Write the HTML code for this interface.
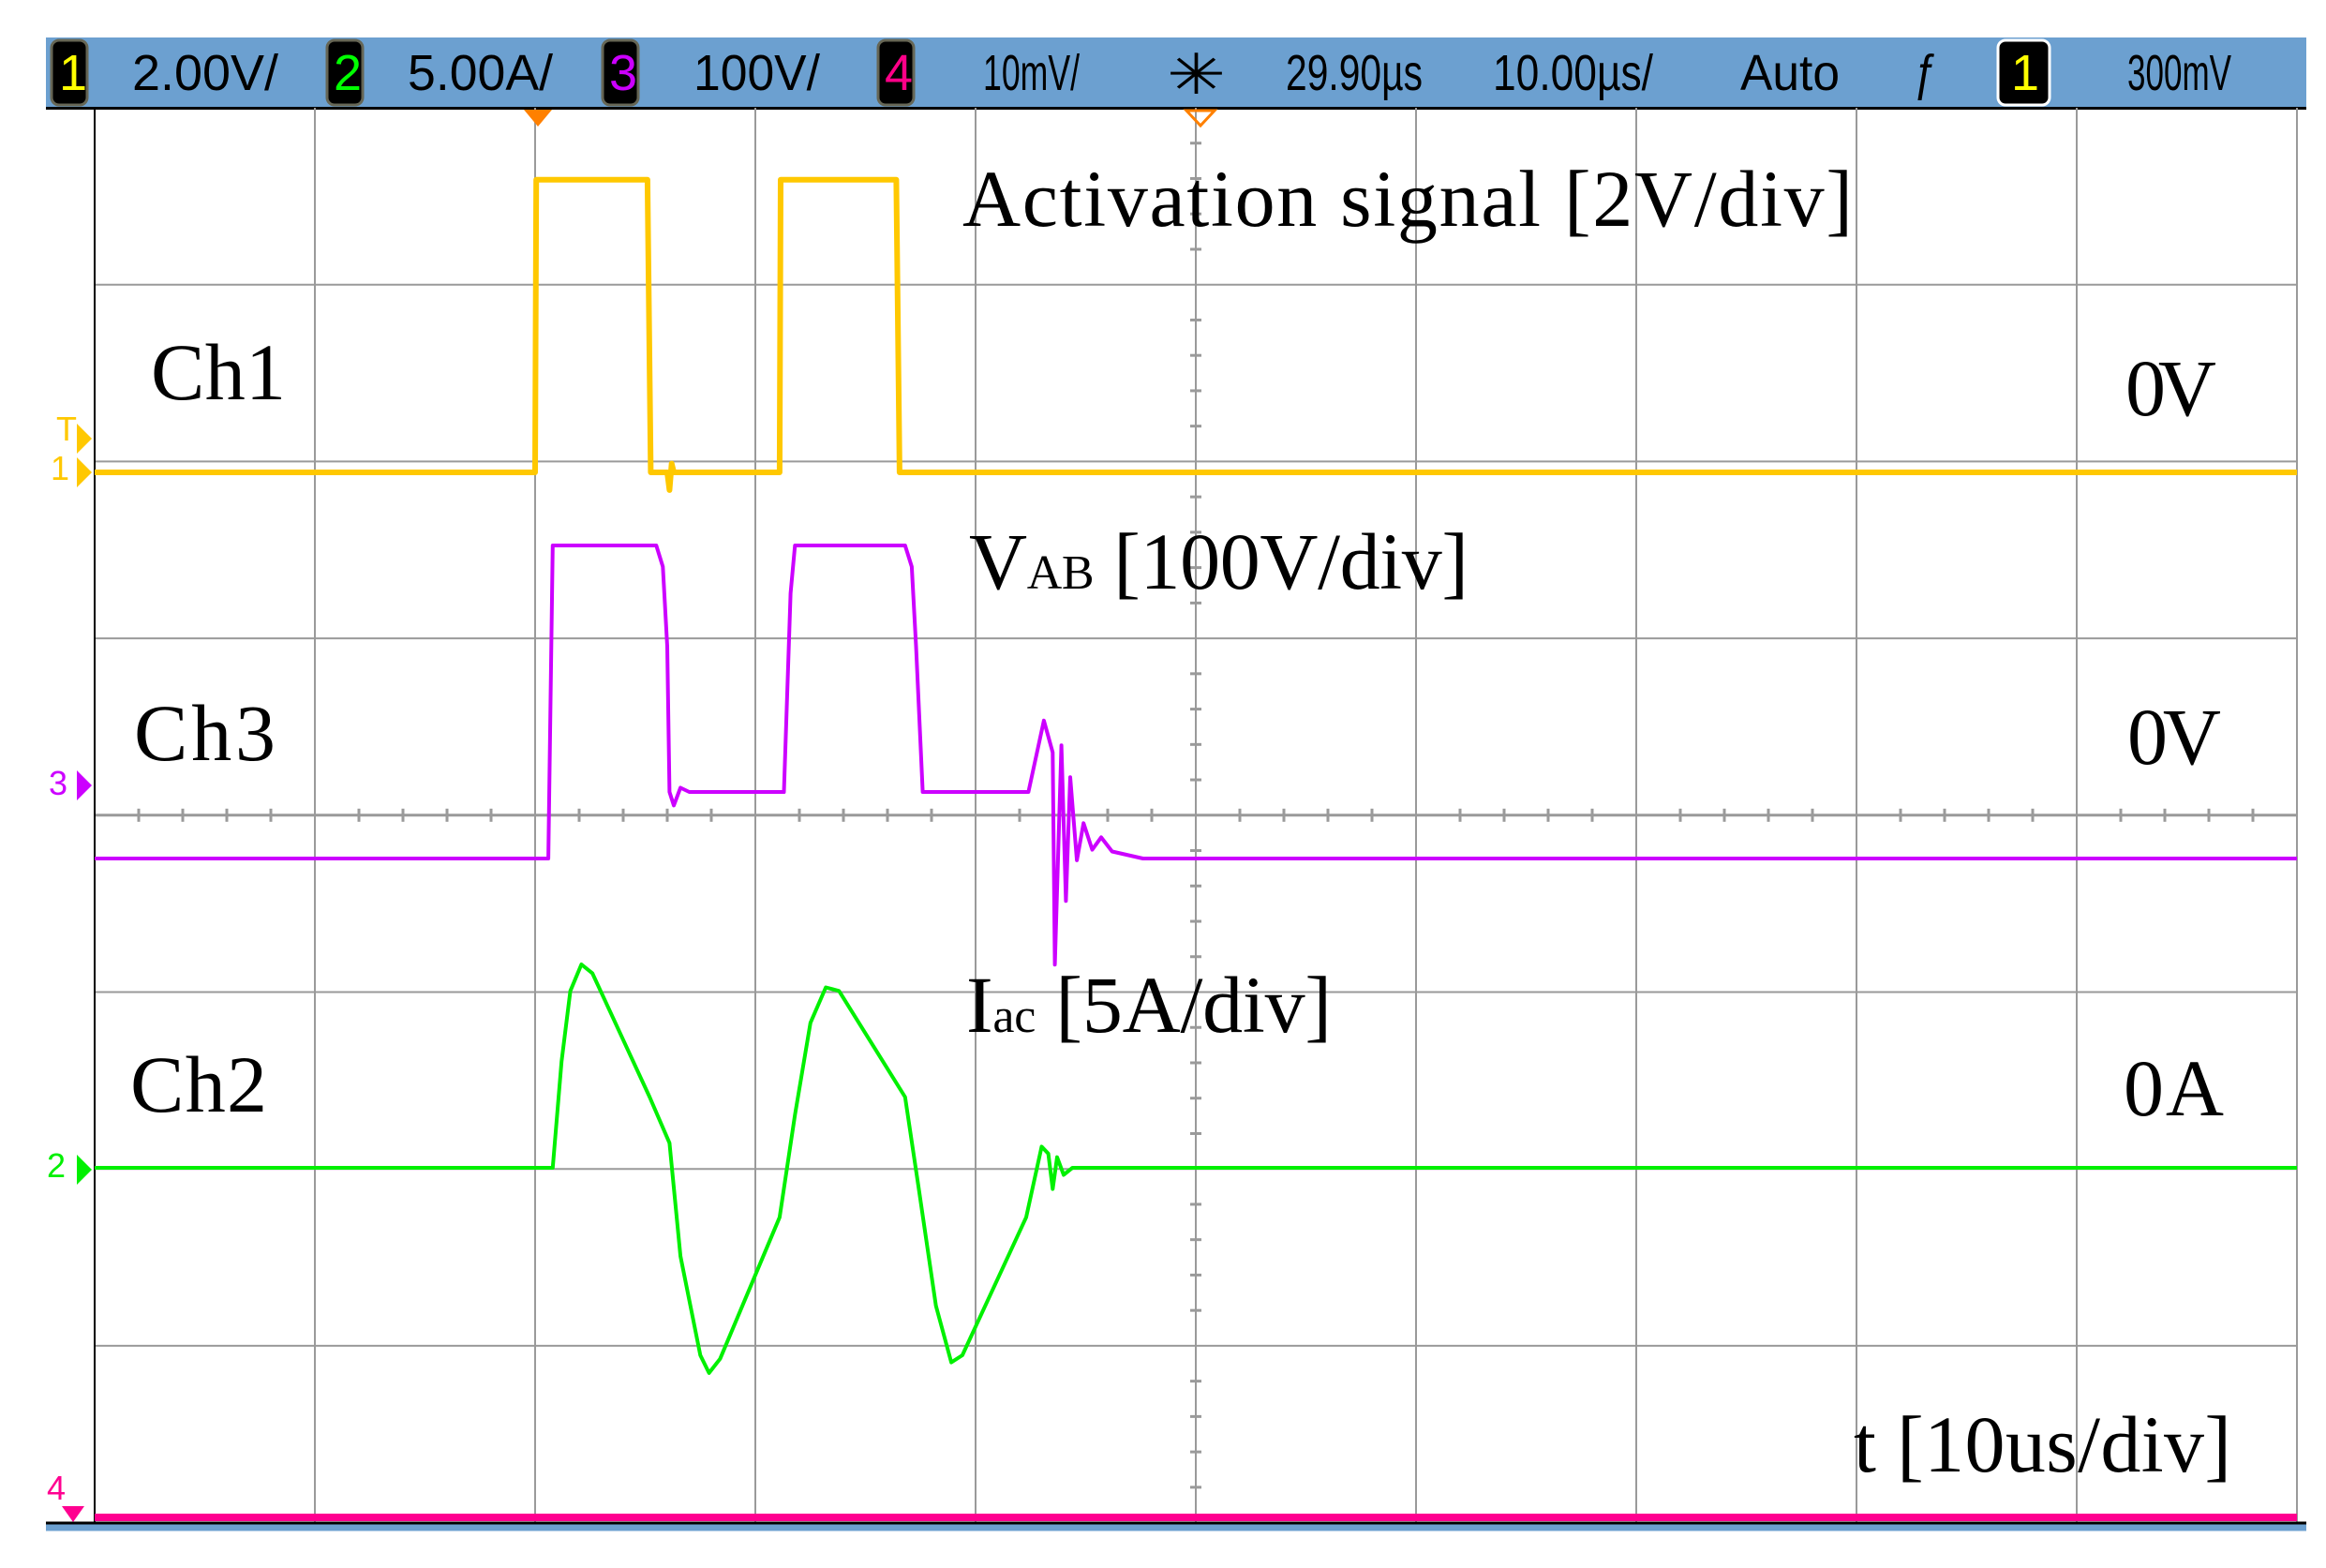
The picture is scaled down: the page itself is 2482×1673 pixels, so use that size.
<!DOCTYPE html>
<html><head><meta charset="utf-8"><style>
html,body{margin:0;padding:0;background:#fff;}
svg{display:block;}
.hd{font-family:"Liberation Sans",sans-serif;font-size:54px;fill:#000;}
.lb{font-family:"Liberation Serif",serif;fill:#000;}
</style></head><body>
<svg id="scope" width="2482" height="1673" viewBox="0 0 2482 1673" xmlns="http://www.w3.org/2000/svg">
<rect x="0" y="0" width="2482" height="1673" fill="#fff"/>
<g>
<rect x="49" y="40" width="2412" height="76" fill="#6ca0d0"/>
<rect x="49" y="114" width="2412" height="3" fill="#000"/>
<rect x="55" y="43" width="38" height="69" rx="8" fill="#000" stroke="#665" stroke-width="3"/>
<text x="63" y="96" class="hd" style="fill:#ff0">1</text>
<text x="141" y="96" class="hd" textLength="156" lengthAdjust="spacingAndGlyphs">2.00V/</text>
<rect x="349" y="43" width="38" height="69" rx="8" fill="#000" stroke="#665" stroke-width="3"/>
<text x="356" y="96" class="hd" style="fill:#0f0">2</text>
<text x="435" y="96" class="hd" textLength="155" lengthAdjust="spacingAndGlyphs">5.00A/</text>
<rect x="643" y="43" width="38" height="69" rx="8" fill="#000" stroke="#665" stroke-width="3"/>
<text x="650" y="96" class="hd" style="fill:#c0f">3</text>
<text x="740" y="96" class="hd" textLength="135" lengthAdjust="spacingAndGlyphs">100V/</text>
<rect x="937" y="43" width="38" height="69" rx="8" fill="#000" stroke="#665" stroke-width="3"/>
<text x="944" y="96" class="hd" style="fill:#f08">4</text>
<text x="1049" y="96" class="hd" textLength="103" lengthAdjust="spacingAndGlyphs">10mV/</text>
<text x="1245" y="100" class="hd" textLength="63" lengthAdjust="spacingAndGlyphs" style="font-size:60px">✳</text>
<text x="1372" y="96" class="hd" textLength="146" lengthAdjust="spacingAndGlyphs">29.90µs</text>
<text x="1593" y="96" class="hd" textLength="171" lengthAdjust="spacingAndGlyphs">10.00µs/</text>
<text x="1857" y="96" class="hd" textLength="106" lengthAdjust="spacingAndGlyphs">Auto</text>
<text x="2042" y="96" class="hd" textLength="26" lengthAdjust="spacingAndGlyphs">ƒ</text>
<rect x="2132" y="43" width="55" height="69" rx="8" fill="#000" stroke="#fff" stroke-width="3"/>
<text x="2146" y="96" class="hd" style="fill:#ff0">1</text>
<text x="2270" y="96" class="hd" textLength="111" lengthAdjust="spacingAndGlyphs">300mV</text>
</g>
<g id="grid"></g>
<g id="traces"></g>
<g>
<text class="lb" x="1027" y="241" font-size="86" textLength="950">Activation signal [2V/div]</text>
<text class="lb" x="161" y="426" font-size="86" textLength="144">Ch1</text>
<text class="lb" x="2268" y="443" font-size="86" textLength="97">0V</text>
<text class="lb" x="1034" y="628" font-size="86" textLength="533">V<tspan font-size="52">AB</tspan> [100V/div]</text>
<text class="lb" x="143" y="811" font-size="86" textLength="151">Ch3</text>
<text class="lb" x="2270" y="815" font-size="86" textLength="100">0V</text>
<text class="lb" x="1031" y="1101" font-size="86" textLength="390">I<tspan font-size="52">ac</tspan> [5A/div]</text>
<text class="lb" x="139" y="1186" font-size="86" textLength="146">Ch2</text>
<text class="lb" x="2266" y="1190" font-size="86" textLength="107">0A</text>
<text class="lb" x="1978" y="1570" font-size="86" textLength="403">t [10us/div]</text>
</g>
</svg>
<script>
// Time axis (µs), 10 divisions of 10 µs
const ch1T=[0,20.0,20.05,25.1,25.25,26.0,26.1,26.2,26.3,31.1,31.15,36.4,36.55,100];
const ch1V=[0,0,3.31,3.31,0,0,-0.2,0.1,0,0,3.31,3.31,0,0];
const ch3T=[0,20.6,20.8,21.2,25.5,25.8,26.0,26.1,26.3,26.6,27.0,31.3,31.6,31.8,36.8,37.1,37.3,37.6,42.4,43.1,43.5,43.6,43.9,44.1,44.3,44.6,44.9,45.3,45.7,46.2,47.6,100];
const ch3V=[0,0,177,177,177,165,120,37.6,30,40,37.6,37.6,150,177,177,165,120,37.6,37.6,78,60,-60,64,-24,46,-1,20,5,12,4,0,0];
const ch2T=[0,20.8,21.2,21.6,22.1,22.6,25.2,26.1,26.6,27.5,27.9,28.4,31.1,31.8,32.5,33.2,33.8,36.8,37.4,38.2,38.9,39.4,42.3,43.0,43.3,43.5,43.7,44.0,44.4,100];
const ch2A=[0,0,3.0,5.0,5.75,5.5,2.0,0.7,-2.5,-5.3,-5.8,-5.4,-1.4,1.5,4.1,5.1,5.0,2.0,-0.5,-3.9,-5.5,-5.3,-1.4,0.6,0.4,-0.6,0.3,-0.2,0,0];
const X0=101, DIVX=235, Y0=115, DIVY=188.7;
function xs(t){return X0+t/10*DIVX;}
function y1(v){return 504-v/2*DIVY;}
function y3(v){return 916-v/100*DIVY;}
function y2(a){return 1246-a/5*DIVY;}
const NS="http://www.w3.org/2000/svg";
const grid=document.getElementById('grid');
function ln(p,x1,y1_,x2,y2_,c,w,name){const l=document.createElementNS(NS,'line');
l.setAttribute('x1',x1);l.setAttribute('y1',y1_);l.setAttribute('x2',x2);l.setAttribute('y2',y2_);
l.setAttribute('stroke',c);l.setAttribute('stroke-width',w);


p.appendChild(l);}
for(let i=1;i<10;i++){ln(grid,X0+i*DIVX,Y0,X0+i*DIVX,Y0+8*DIVY,'#9a9a9a',2,'vertical-gridline');}
for(let j=1;j<8;j++){ln(grid,X0,Y0+j*DIVY,X0+10*DIVX,Y0+j*DIVY,'#9a9a9a',j==4?3:2,'horizontal-gridline');}
for(let k=1;k<50;k++){if(k%5)ln(grid,X0+k*DIVX/5,Y0+4*DIVY-7,X0+k*DIVX/5,Y0+4*DIVY+7,'#9a9a9a',3,'x-minor-tick');}
for(let k=1;k<40;k++){if(k%5)ln(grid,X0+5*DIVX-6,Y0+k*DIVY/5,X0+5*DIVX+6,Y0+k*DIVY/5,'#9a9a9a',3,'y-minor-tick');}
ln(grid,X0,Y0,X0,1624,'#000',2,'left-border');
ln(grid,X0+10*DIVX,Y0,X0+10*DIVX,1624,'#9a9a9a',2,'right-border');
const tr=document.getElementById('traces');
function path(T,V,fy,c,w,name){let d='';for(let i=0;i<T.length;i++){d+=(i?'L':'M')+xs(T[i]).toFixed(1)+' '+fy(V[i]).toFixed(1);}
const p=document.createElementNS(NS,'path');p.setAttribute('d',d);p.setAttribute('fill','none');p.setAttribute('stroke',c);p.setAttribute('stroke-width',w);p.setAttribute('stroke-linejoin','round');


tr.appendChild(p);}
ln(tr,X0,1619,X0+10*DIVX,1619,'#ff0090',8,'ch4-trace');
ln(tr,49,1625,2461,1625,'#000',3,'bottom-border');
ln(tr,49,1630,2461,1630,'#6ca0d0',7,'bottom-bar');
path(ch1T,ch1V,y1,'#ffc800',6,'ch1-activation-trace');
path(ch3T,ch3V,y3,'#cc00ff',4,'ch3-vab-trace');
path(ch2T,ch2A,y2,'#00f000',4,'ch2-iac-trace');
function poly(pts,c,name,stroke){const p=document.createElementNS(NS,'polygon');p.setAttribute('points',pts);
if(stroke){p.setAttribute('fill','none');p.setAttribute('stroke',c);p.setAttribute('stroke-width',3);}else p.setAttribute('fill',c);


tr.appendChild(p);}
poly('559,117 589,117 574,135','#ff8000','trigger-position-marker');
poly('1266,118 1296,118 1281,134','#ff8000','time-reference-marker',true);
poly('82,452 98,468 82,484','#ffc800','trigger-level-marker');
poly('82,488 98,504 82,520','#ffc800','ch1-ground-marker');
poly('82,822 98,838 82,854','#cc00ff','ch3-ground-marker');
poly('82,1232 98,1248 82,1264','#00f000','ch2-ground-marker');
poly('66,1607 90,1607 78,1624','#ff0090','ch4-ground-marker');
function lt(x,y,s,c,name){const t=document.createElementNS(NS,'text');t.setAttribute('x',x);t.setAttribute('y',y);t.setAttribute('fill',c);
t.setAttribute('font-family','Liberation Sans, sans-serif');t.setAttribute('font-size','36');t.textContent=s;


tr.appendChild(t);}
lt(60,470,'T','#ffc800','trigger-label');lt(54,512,'1','#ffc800','ch1-marker-label');
lt(52,848,'3','#cc00ff','ch3-marker-label');lt(50,1256,'2','#00f000','ch2-marker-label');
lt(50,1600,'4','#ff0090','ch4-marker-label');
</script>
</body></html>
